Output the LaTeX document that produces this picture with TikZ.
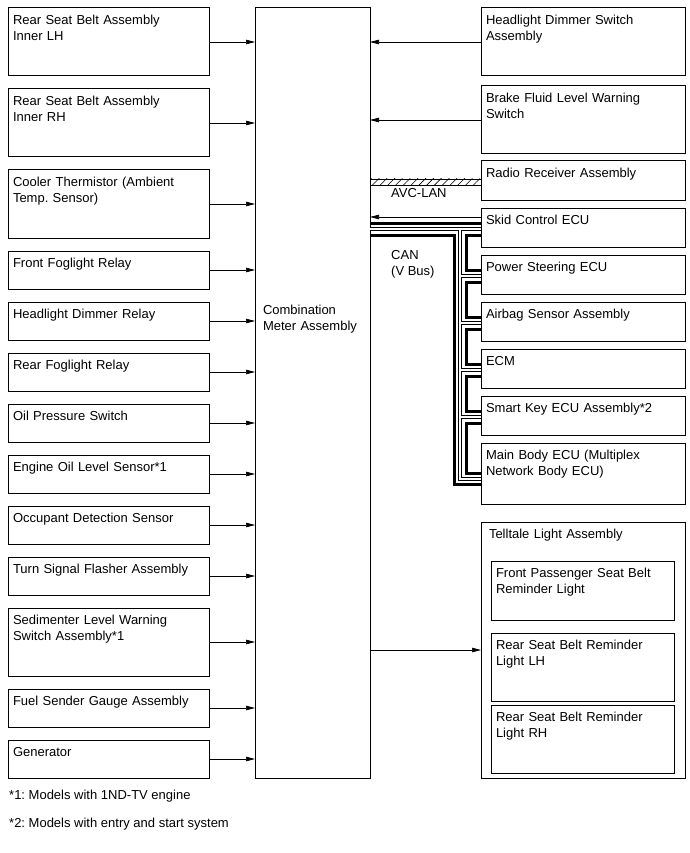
\documentclass[tikz,border=0pt]{standalone}
\usepackage{fontspec}
\setmainfont{Liberation Sans}
\usetikzlibrary{arrows.meta, positioning, calc, patterns.meta}
\frenchspacing

\begin{document}
\begin{tikzpicture}[
  x=1pt, y=-1pt,
  font=\fontsize{13}{16}\selectfont,
  node distance=13pt,
  unit/.style={rectangle, draw, line width=1pt, anchor=north west, align=left, inner xsep=5pt, inner ysep=0pt, outer sep=0pt, text height=16.8pt},
  lbox/.style={unit, text width=191pt},
  rbox/.style={unit, text width=194pt},
  ibox/.style={unit, text width=173pt},
  h38/.style={text depth=21.2pt},
  h39/.style={text depth=22.2pt},
  h61/.style={text depth=44.2pt},
  h68/.style={text depth=51.2pt},
  sig/.style={line width=0.7pt, -{Triangle[length=9pt, width=4.5pt]}},
  canl/.style={line width=3pt, line join=miter},
  canh/.style={line width=3.8pt, line join=miter},
  canhcore/.style={line width=2pt, white, line join=miter},
  avc/.style={draw, line width=0.8pt, pattern={Lines[angle=45, distance=5.5pt, line width=0.6pt]}},
  lbl/.style={inner sep=0pt, align=left}
]
\useasboundingbox (0,0) rectangle (689,853);

% inputs on the left
\node (rsbl) [lbox, h68] at (8,8) {Rear Seat Belt Assembly\\Inner LH};
\node (rsbr) [lbox, h68, below=of rsbl] {Rear Seat Belt Assembly\\Inner RH};
\node (cool) [lbox, h68, below=of rsbr] {Cooler Thermistor (Ambient\\Temp. Sensor)};
\node (ffog) [lbox, h38, below=of cool] {Front Foglight Relay};
\node (hdrl) [lbox, h38, below=of ffog] {Headlight Dimmer Relay};
\node (rfog) [lbox, h38, below=of hdrl] {Rear Foglight Relay};
\node (oilp) [lbox, h38, below=of rfog] {Oil Pressure Switch};
\node (oill) [lbox, h38, below=of oilp] {Engine Oil Level Sensor*1};
\node (occ) [lbox, h38, below=of oill] {Occupant Detection Sensor};
\node (turn) [lbox, h38, below=of occ] {Turn Signal Flasher Assembly};
\node (sedi) [lbox, h68, below=of turn] {Sedimenter Level Warning\\Switch Assembly*1};
\node (fuel) [lbox, h38, below=of sedi] {Fuel Sender Gauge Assembly};
\node (gen) [lbox, h38, below=of fuel] {Generator};

% meter
\node (meter) [unit, text width=99pt, inner xsep=8pt, text height=306.7pt, text depth=463.3pt] at (255,8) {Combination\\Meter Assembly};

% right column
\node (hdsw) [rbox, h68] at (481,8) {Headlight Dimmer Switch\\Assembly};
\node (brake) [rbox, h68, below=10pt of hdsw] {Brake Fluid Level Warning\\Switch};
\node (radio) [rbox, h39, below=7pt of brake] {Radio Receiver Assembly};
\node (skid) [rbox, h39, below=8pt of radio] {Skid Control ECU};
\node (ps) [rbox, h39, below=8pt of skid] {Power Steering ECU};
\node (air) [rbox, h39, below=8pt of ps] {Airbag Sensor Assembly};
\node (ecm) [rbox, h39, below=8pt of air] {ECM};
\node (smart) [rbox, h39, below=8pt of ecm] {Smart Key ECU Assembly*2};
\node (main) [rbox, h61, below=8pt of smart] {Main Body ECU (Multiplex\\Network Body ECU)};
\node (tell) [rbox, text width=188pt, inner xsep=8pt, text depth=239.2pt, below=18pt of main] {Telltale Light Assembly};
\node (fpl) [ibox, text depth=42.2pt] at (491,561) {Front Passenger Seat Belt\\Reminder Light};
\node (rll) [ibox, h68, below=of fpl] {Rear Seat Belt Reminder\\Light LH};
\node (rrl) [ibox, h68, below=4pt of rll] {Rear Seat Belt Reminder\\Light RH};

% signal lines
\foreach \n in {rsbl,rsbr,cool,ffog,hdrl,rfog,oilp,oill,occ,turn,sedi,fuel,gen}
  \draw[sig] (\n.east) -- (\n.east -| meter.west);
\foreach \n in {hdsw,brake}
  \draw[sig] (\n.west) -- (\n.west -| meter.east);
\coordinate (skid-sig) at ($(skid.north west)+(0,9)$);
\draw[sig] (skid-sig) -- (skid-sig -| meter.east);
\draw[sig] (meter.east |- tell.west) -- (tell.west);

% AVC-LAN
\coordinate (avc-a) at ($(radio.north west)+(0,18)$);
\coordinate (avc-b) at ($(radio.north west)+(0,24)$);
\draw[avc] (meter.east |- avc-a) rectangle (avc-b);
\node (avclbl) [lbl, anchor=base west] at (391,197.7) {AVC-LAN};

% CAN (V Bus)
\foreach \e/\a/\b/\c in {skid/15/21/27, ps/15/21/27, air/15/21/27, ecm/15/21/27, smart/15/21/27, main/30/36/41} {
  \coordinate (\e-in) at ($(\e.north west)+(0,\a)$);
  \coordinate (\e-bus) at ($(\e.north west)+(0,\b)$);
  \coordinate (\e-out) at ($(\e.north west)+(0,\c)$);
}
\draw[canl] (meter.east |- skid-in) -- (skid-in);
\foreach \u/\v in {skid/ps, ps/air, air/ecm, ecm/smart, smart/main}
  \draw[canl] (\u-out) -| ($(\v-in)+(-15,0)$) -- (\v-in);
\draw[canl] (meter.east |- skid-out) -| ($(main-out)+(-27,0)$) -- (main-out);
\foreach \s in {canh, canhcore} {
  \draw[\s] (meter.east |- skid-bus) -- (skid-bus);
  \draw[\s] ($(skid-bus)+(-21,0)$) |- (main-bus);
  \foreach \e in {ps,air,ecm,smart}
    \draw[\s] ($(\e-bus)+(-21,0)$) -- (\e-bus);
}
\node (canlbl) [lbl, anchor=north west] at (391,250.3) {CAN\\(V Bus)};

% notes
\node (note1) [lbl, anchor=base west] at (9,799.7) {*1: Models with 1ND-TV engine};
\node (note2) [lbl, anchor=base west] at (9,827.7) {*2: Models with entry and start system};
\end{tikzpicture}
\end{document}
